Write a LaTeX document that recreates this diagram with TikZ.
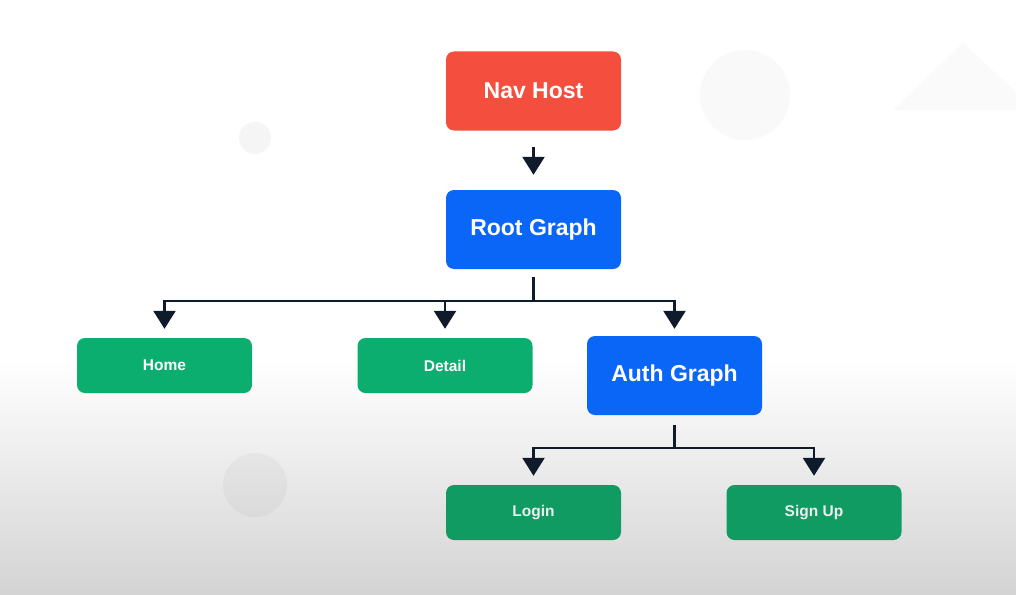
\documentclass[tikz,border=0pt]{standalone}
\usepackage{fontspec}
\setmainfont{Liberation Sans}
\usetikzlibrary{arrows.meta}
\definecolor{navred}{HTML}{F44E3F}
\definecolor{graphblue}{HTML}{0A66F7}
\definecolor{destgreen}{HTML}{0BAE6F}
\definecolor{destgreenlow}{HTML}{109B63}
\definecolor{linkdark}{HTML}{0F1B2B}
\begin{document}
\begin{tikzpicture}[x=1pt,y=-1pt,
  bigbox/.style={rounded corners=8pt,minimum width=175pt,minimum height=79pt,text=white,font=\fontsize{23}{27}\selectfont\bfseries,inner sep=0pt},
  smallbox/.style={rounded corners=8pt,minimum width=175pt,minimum height=55pt,text=white,font=\fontsize{15.5}{18}\selectfont\bfseries,inner sep=0pt},
  link/.style={draw=linkdark,line width=2.5pt,-{Triangle[width=22pt,length=18pt]}}]
 \useasboundingbox (0,0) rectangle (1016,594);
 % background
 \fill[white](0,0) rectangle (1016,594);
 \shade[top color=white,bottom color=black!17](0,360) rectangle (1016,594);
 \fill[black!2.5](745,95) circle (45);
 \fill[black!2](893,110) -- (963,43) -- (1016,92) -- (1016,110) -- cycle;
 \fill[black!4](255,138) circle (16);
 \fill[black,opacity=0.03](255,485) circle (32);
 % boxes
 \node[bigbox,fill=navred] (navhost) at (533.5,91) {Nav Host};
 \node[bigbox,fill=graphblue] (rootgraph) at (533.5,229.5) {Root Graph};
 \node[smallbox,fill=destgreen] (home) at (164.5,365.5) {Home};
 \node[smallbox,fill=destgreen] (detail) at (445,365.5) {Detail};
 \node[bigbox,fill=graphblue] (authgraph) at (674.5,375.5) {Auth Graph};
 \node[smallbox,fill=destgreenlow,text=black!7] (login) at (533.5,512.5) {Login};
 \node[smallbox,fill=destgreenlow,text=black!7] (signup) at (814,512.5) {Sign Up};
 % links
 \draw[link,shorten <=16pt,shorten >=15pt](navhost) -- (rootgraph);
 \draw[link,shorten <=8pt,shorten >=9pt](rootgraph.south) -- ++(0,32) -| (home.north);
 \draw[link,shorten <=8pt,shorten >=9pt](rootgraph.south) -- ++(0,32) -| (detail.north);
 \draw[link,shorten <=8pt,shorten >=7pt](rootgraph.south) -- ++(0,32) -| (authgraph.north);
 \draw[link,shorten <=10pt,shorten >=9pt](authgraph.south) -- ++(0,33) -| (login.north);
 \draw[link,shorten <=10pt,shorten >=9pt](authgraph.south) -- ++(0,33) -| (signup.north);
\end{tikzpicture}
\end{document}
